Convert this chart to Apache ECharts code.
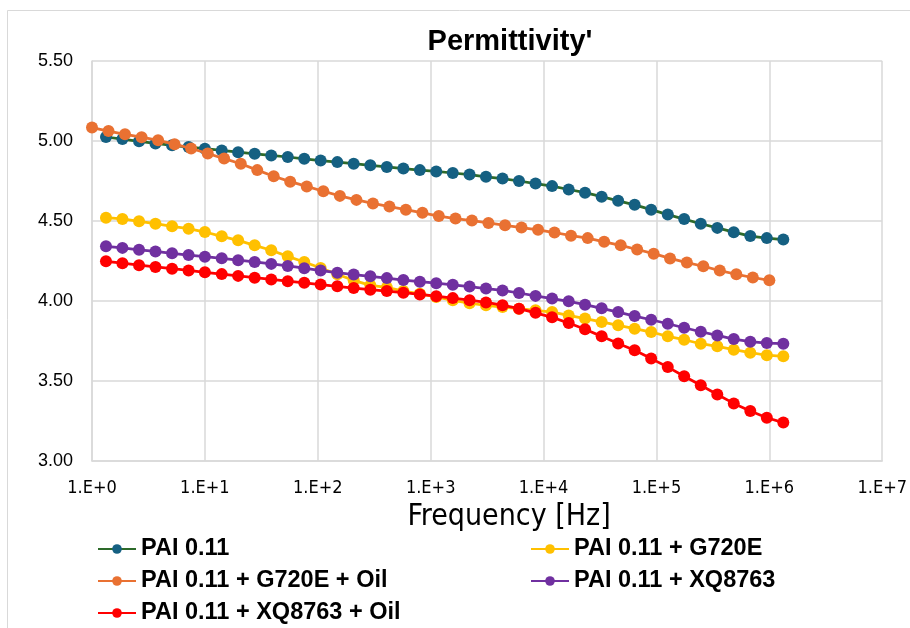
<!DOCTYPE html>
<html>
<head>
<meta charset="utf-8">
<script src="https://cdn.jsdelivr.net/npm/echarts@6/dist/echarts.min.js"></script>
<style>
html,body{margin:0;padding:0;background:#fff;}
#chart{width:910px;height:628px;}
</style>
</head>
<body>
<div id="chart"></div>
<script>
var seriesNames = ['PAI 0.11', 'PAI 0.11 + G720E', 'PAI 0.11 + G720E + Oil', 'PAI 0.11 + XQ8763', 'PAI 0.11 + XQ8763 + Oil'];

var freqA = [1.33, 1.86, 2.61, 3.65, 5.12, 7.17, 10.0, 14.1, 19.7, 27.6, 38.7, 54.2, 75.9, 106, 149, 208, 292, 409, 573, 802, 1120, 1570, 2210, 3090, 4330, 6060, 8490, 11900, 16700, 23300, 32700, 45800, 64100, 89800, 126000, 176000, 247000, 346000, 484000, 678000, 950000, 1330000];
var freqB = [1, 1.40, 1.96, 2.75, 3.85, 5.39, 7.55, 10.6, 14.8, 20.8, 29.1, 40.7, 57.0, 79.9, 112, 157, 220, 308, 431, 603, 845, 1180, 1660, 2320, 3250, 4560, 6380, 8940, 12500, 17500, 24600, 34400, 48200, 67500, 94500, 132000, 186000, 260000, 364000, 510000, 714000, 1000000];

var pai = [5.025, 5.012, 4.998, 4.985, 4.973, 4.962, 4.952, 4.941, 4.930, 4.920, 4.910, 4.900, 4.889, 4.878, 4.868, 4.858, 4.848, 4.838, 4.828, 4.818, 4.810, 4.800, 4.790, 4.776, 4.765, 4.750, 4.734, 4.718, 4.697, 4.677, 4.652, 4.626, 4.601, 4.571, 4.540, 4.512, 4.483, 4.457, 4.430, 4.406, 4.393, 4.384];
var paiG720E = [4.521, 4.513, 4.498, 4.483, 4.467, 4.452, 4.431, 4.404, 4.379, 4.348, 4.317, 4.279, 4.244, 4.206, 4.167, 4.129, 4.098, 4.085, 4.062, 4.045, 4.025, 4.004, 3.986, 3.973, 3.962, 3.952, 3.942, 3.931, 3.910, 3.890, 3.869, 3.848, 3.827, 3.806, 3.779, 3.758, 3.733, 3.717, 3.696, 3.677, 3.661, 3.654];
var paiG720EOil = [5.084, 5.062, 5.042, 5.024, 5.004, 4.980, 4.953, 4.922, 4.890, 4.858, 4.818, 4.780, 4.746, 4.716, 4.686, 4.657, 4.632, 4.610, 4.590, 4.571, 4.551, 4.531, 4.515, 4.503, 4.488, 4.473, 4.459, 4.445, 4.428, 4.408, 4.393, 4.370, 4.348, 4.322, 4.296, 4.266, 4.240, 4.217, 4.190, 4.167, 4.147, 4.129];
var paiXQ = [4.342, 4.332, 4.320, 4.310, 4.298, 4.287, 4.277, 4.267, 4.255, 4.244, 4.232, 4.219, 4.205, 4.190, 4.177, 4.165, 4.154, 4.143, 4.131, 4.121, 4.111, 4.101, 4.090, 4.078, 4.066, 4.050, 4.032, 4.015, 3.998, 3.977, 3.954, 3.931, 3.906, 3.883, 3.858, 3.833, 3.808, 3.785, 3.762, 3.746, 3.737, 3.733];
var paiXQOil = [4.248, 4.236, 4.224, 4.213, 4.202, 4.191, 4.179, 4.168, 4.157, 4.146, 4.135, 4.124, 4.114, 4.103, 4.092, 4.081, 4.071, 4.062, 4.052, 4.041, 4.030, 4.018, 4.005, 3.991, 3.974, 3.952, 3.926, 3.898, 3.862, 3.823, 3.779, 3.735, 3.692, 3.640, 3.587, 3.530, 3.473, 3.416, 3.360, 3.312, 3.270, 3.240];

var yTicks = [3.00, 3.50, 4.00, 4.50, 5.00, 5.50];
var xTickExponents = [0, 1, 2, 3, 4, 5, 6, 7];

function pairs(xs, ys) { return xs.map(function (x, i) { return [x, ys[i]]; }); }

var lineColors = ['#2d6a2a', '#FFC000', '#E97132', '#7030A0', '#FF0000'];
var markColors = ['#156082', '#FFC000', '#E97132', '#7030A0', '#FF0000'];
var dataSets = [pairs(freqA, pai), pairs(freqA, paiG720E), pairs(freqB, paiG720EOil), pairs(freqA, paiXQ), pairs(freqA, paiXQOil)];

var series = seriesNames.map(function (n, i) {
  return {
    name: n, type: 'line', data: dataSets[i],
    symbol: 'circle', symbolSize: 12, showSymbol: true,
    lineStyle: { color: lineColors[i], width: 2.75 },
    itemStyle: { color: markColors[i], borderWidth: 0 },
    emphasis: { disabled: true },
    z: 2 + i
  };
});

var legendText = { fontFamily: "'Liberation Sans', Arial, sans-serif", fontWeight: 'bold', fontSize: 23.5, color: '#000', lineHeight: 24 };
// legend slots: [series index, left, top]
var legendSlots = [[0, 97, 537], [2, 97, 569], [4, 97, 601], [1, 530, 537], [3, 530, 569]];
var legends = legendSlots.map(function (s) {
  return {
    data: [seriesNames[s[0]]], left: s[1], top: s[2], padding: 0,
    itemWidth: 38, itemHeight: 12, itemGap: 0, textStyle: legendText, selectedMode: false
  };
});

var chart = echarts.init(document.getElementById('chart'), null, { renderer: 'canvas' });
chart.setOption({
  animation: false,
  backgroundColor: '#fff',
  title: {
    text: "Permittivity'", left: 505, top: 22, textAlign: 'center',
    textStyle: { fontFamily: "'Liberation Sans', Arial, sans-serif", fontWeight: 'bold', fontSize: 29, color: '#000' }
  },
  graphic: [{
    type: 'rect', silent: true, z: -10,
    shape: { x: 7.5, y: 10.5, width: 1000, height: 1000 },
    style: { fill: 'none', stroke: '#d9d9d9', lineWidth: 1 }
  }],
  grid: { left: 92, right: 27, top: 61, bottom: 167 },
  legend: legends,
  xAxis: {
    type: 'log', logBase: 10, min: Math.pow(10, xTickExponents[0]), max: Math.pow(10, xTickExponents[xTickExponents.length - 1]),
    name: 'Frequency [Hz]', nameLocation: 'middle', nameGap: 36,
    nameTextStyle: { fontFamily: "'Liberation Sans Narrow', 'DejaVu Sans Condensed', sans-serif", fontSize: 30, color: '#000', padding: [0, 0, 0, 44] },
    axisLine: { show: true, lineStyle: { color: '#d9d9d9', width: 1.5 } },
    axisTick: { show: false },
    splitLine: { show: true, lineStyle: { color: '#d9d9d9', width: 1.5 } },
    axisLabel: {
      margin: 18, color: '#000', fontSize: 18,
      fontFamily: "'Liberation Sans Narrow', 'DejaVu Sans Condensed', sans-serif",
      formatter: function (v) { return '1.E+' + Math.round(Math.log10(v)); }
    }
  },
  yAxis: {
    type: 'value', min: yTicks[0], max: yTicks[yTicks.length - 1], interval: 0.5,
    axisLine: { show: true, lineStyle: { color: '#d9d9d9', width: 1.5 } },
    axisTick: { show: false },
    splitLine: { show: true, lineStyle: { color: '#d9d9d9', width: 1.5 } },
    axisLabel: {
      margin: 19, color: '#000', fontSize: 18,
      fontFamily: "'Liberation Sans', Arial, sans-serif",
      formatter: function (v) { return v.toFixed(2); }
    }
  },
  series: series
});
</script>
</body>
</html>
